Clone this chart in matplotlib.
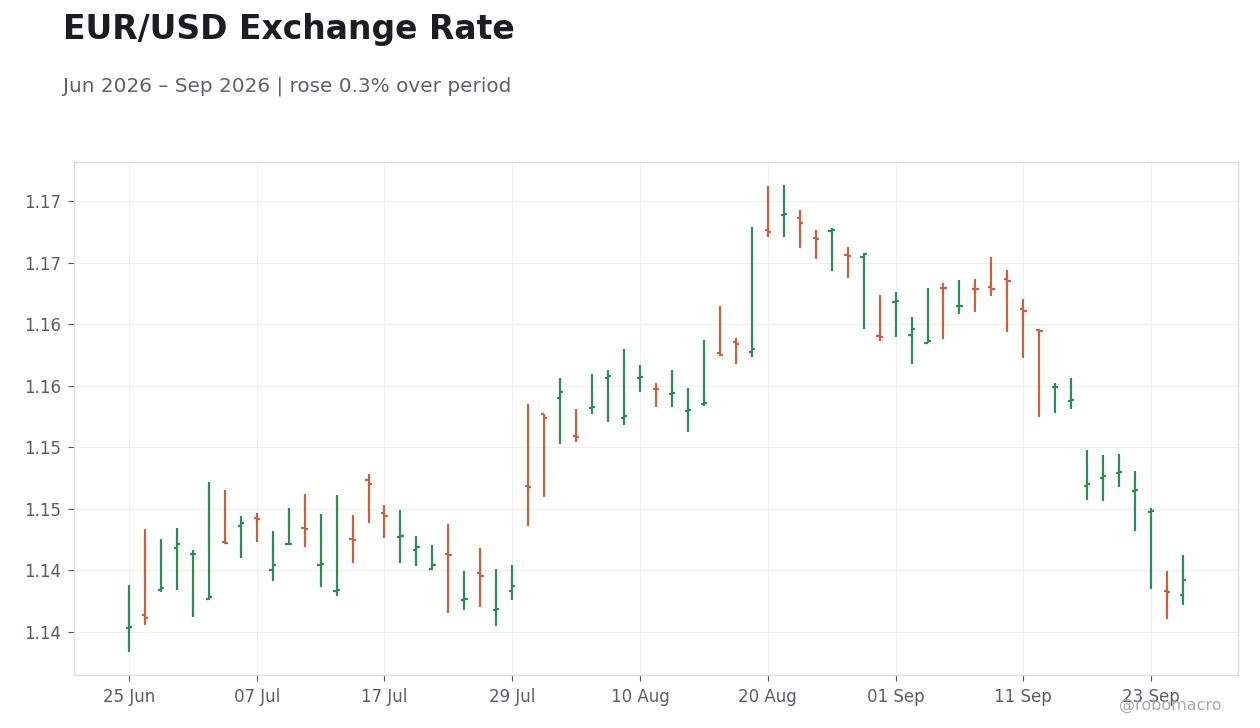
import matplotlib
matplotlib.use("Agg")
import matplotlib.pyplot as plt
import numpy as np
import pandas as pd

# daily EUR/USD bars, business days from 25 Jun 2026
start_date = "2026-06-25"
opens = [1.13785, 1.13891, 1.14094, 1.14435, 1.14381, 1.14021, 1.14484, 1.14608, 1.14673, 1.14256,
         1.14462, 1.14592, 1.14291, 1.14086, 1.14508, 1.14982, 1.14720, 1.14525, 1.14413, 1.14265,
         1.14381, 1.14013, 1.14226, 1.13931, 1.14086, 1.14933, 1.15519, 1.15654, 1.15340, 1.15573,
         1.15811, 1.15486, 1.15811, 1.15725, 1.15687, 1.15541, 1.15598, 1.16018, 1.16104, 1.16023,
         1.17014, 1.17134, 1.17112, 1.16947, 1.17004, 1.16809, 1.16795, 1.16153, 1.16429, 1.16161,
         1.16101, 1.16544, 1.16394, 1.16536, 1.16551, 1.16616, 1.16372, 1.16205, 1.15736, 1.15624,
         1.14933, 1.14998, 1.15045, 1.14893, 1.14722, 1.14080, 1.14053]
highs = [1.14134, 1.14587, 1.14506, 1.14598, 1.14416, 1.14972, 1.14907, 1.14695, 1.14720, 1.14573,
         1.14760, 1.14874, 1.14712, 1.14866, 1.14703, 1.15037, 1.14785, 1.14744, 1.14533, 1.14460,
         1.14630, 1.14248, 1.14435, 1.14265, 1.14297, 1.15598, 1.15522, 1.15809, 1.15565, 1.15849,
         1.15874, 1.16045, 1.15915, 1.15776, 1.15874, 1.15728, 1.16118, 1.16396, 1.16140, 1.17036,
         1.17369, 1.17378, 1.17174, 1.17012, 1.17034, 1.16874, 1.16827, 1.16483, 1.16508, 1.16305,
         1.16540, 1.16581, 1.16605, 1.16614, 1.16792, 1.16687, 1.16451, 1.16207, 1.15774, 1.15809,
         1.15232, 1.15191, 1.15199, 1.15061, 1.14758, 1.14246, 1.14378]
lows = [1.13590, 1.13804, 1.14072, 1.14088, 1.13869, 1.14007, 1.14462, 1.14348, 1.14478, 1.14167,
        1.14455, 1.14438, 1.14118, 1.14039, 1.14313, 1.14633, 1.14511, 1.14308, 1.14283, 1.14251,
        1.13901, 1.13926, 1.13950, 1.13796, 1.14007, 1.14608, 1.14844, 1.15280, 1.15291, 1.15524,
        1.15454, 1.15435, 1.15697, 1.15576, 1.15581, 1.15378, 1.15589, 1.15990, 1.15923, 1.15982,
        1.16957, 1.16957, 1.16868, 1.16779, 1.16681, 1.16624, 1.16210, 1.16115, 1.16145, 1.15925,
        1.16096, 1.16128, 1.16331, 1.16348, 1.16478, 1.16185, 1.15974, 1.15494, 1.15527, 1.15559,
        1.14820, 1.14812, 1.14925, 1.14568, 1.14096, 1.13856, 1.13966]
closes = [1.13793, 1.13866, 1.14104, 1.14468, 1.14386, 1.14037, 1.14473, 1.14633, 1.14671, 1.14291,
          1.14468, 1.14584, 1.14299, 1.14094, 1.14500, 1.14955, 1.14695, 1.14530, 1.14438, 1.14291,
          1.14373, 1.14021, 1.14202, 1.13939, 1.14121, 1.14925, 1.15486, 1.15697, 1.15332, 1.15577,
          1.15828, 1.15502, 1.15819, 1.15722, 1.15693, 1.15554, 1.15608, 1.15996, 1.16088, 1.16047,
          1.17000, 1.17142, 1.17071, 1.16939, 1.17012, 1.16803, 1.16817, 1.16145, 1.16435, 1.16210,
          1.16112, 1.16540, 1.16398, 1.16532, 1.16535, 1.16600, 1.16356, 1.16193, 1.15740, 1.15632,
          1.14950, 1.15015, 1.15049, 1.14901, 1.14730, 1.14072, 1.14169]

y_ticks = [1.1375, 1.1425, 1.1475, 1.1525, 1.1575, 1.1625, 1.1675, 1.1725]
y_tick_labels = ["1.14", "1.14", "1.15", "1.15", "1.16", "1.16", "1.17", "1.17"]

UP = "#2E8B57"
DOWN = "#C9603E"
TEXT = "#5B5C66"

dates = pd.bdate_range(start_date, periods=len(opens))
x = np.arange(len(opens))

fig = plt.figure(figsize=(12.6, 7.28), dpi=100)
ax = fig.add_axes([74 / 1260, 53 / 728, 1164 / 1260, 513 / 728])

o = np.array(opens)
c = np.array(closes)
colors = [UP if cc >= oo else DOWN for oo, cc in zip(o, c)]
tw = 0.2
ax.vlines(x, lows, highs, colors=colors, linewidth=1.6, zorder=3)
ax.hlines(o, x - tw, x, colors=colors, linewidth=1.6, zorder=3)
ax.hlines(c, x, x + tw, colors=colors, linewidth=1.6, zorder=3)

ax.set_xlim(-3.44, len(opens) - 1 + 3.44)
ax.set_ylim(1.13401, 1.17567)

tick_idx = x[::8]
ax.set_xticks(tick_idx)
ax.set_xticklabels([dates[i].strftime("%d %b") for i in tick_idx])
ax.set_yticks(y_ticks)
ax.set_yticklabels(y_tick_labels)

ax.grid(True, color="#EEEEEE", linewidth=0.8, zorder=0)
ax.set_axisbelow(True)
for s in ax.spines.values():
    s.set_color("#DDDDDD")
    s.set_linewidth(1)
ax.tick_params(axis="both", colors="#55565F", labelcolor=TEXT, labelsize=12, length=4, width=0.8, pad=5)

fig.text(63 / 1260, 1 - 30 / 728, "EUR/USD Exchange Rate", fontsize=23.8, fontweight="bold",
         color="#1C1C22", va="center", ha="left")
fig.text(63 / 1260, 1 - 86 / 728, "Jun 2026 \u2013 Sep 2026 | rose 0.3% over period", fontsize=14.4,
         color="#5F6068", va="center", ha="left")
fig.text(1222 / 1260, 1 - 705 / 728, "@robomacro", fontsize=11.5, color="#AAAAAA",
         va="center", ha="right")

fig.savefig("out.png", dpi=100, facecolor="white")
